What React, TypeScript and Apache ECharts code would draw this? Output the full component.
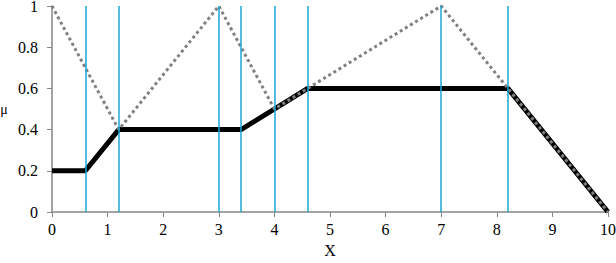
import React, { useEffect, useRef } from "react";
import * as echarts from "echarts";

const ruleX: number[] = [0, 0.6, 1.2, 3.4, 4.6, 8.2, 10];
const ruleMu: number[] = [0.2, 0.2, 0.4, 0.4, 0.6, 0.6, 0];
const envX: number[] = [0, 1.2, 3, 4, 7, 8.2, 10];
const envMu: number[] = [1, 0.4, 1, 0.5, 1, 0.6, 0];
const cuts: number[] = [0.6, 1.2, 3, 3.4, 4, 4.6, 7, 8.2];
const xTicks: number[] = [0, 1, 2, 3, 4, 5, 6, 7, 8, 9, 10];
const yTicks: number[] = [0, 0.2, 0.4, 0.6, 0.8, 1];
const xTitle = "X";
const yTitle = "μ";

const FONT16 = "16px 'Times New Roman', 'Liberation Serif', serif";
const FONT14 = "14px 'Times New Roman', 'Liberation Serif', serif";

export default function App() {
  const ref = useRef<HTMLDivElement>(null);
  useEffect(() => {
    document.body.style.margin = "0";
    if (!ref.current) return;
    const chart = echarts.init(ref.current, undefined, { renderer: "svg" });
    chart.setOption({
      animation: false,
      grid: { left: 52, right: 8, top: 6, bottom: 51, outerBoundsMode: "none" },
      xAxis: {
        type: "value",
        min: 0,
        max: 10,
        interval: 1,
        axisLine: { lineStyle: { color: "#868686", width: 1.5 } },
        axisTick: { show: true, length: 5, inside: false, lineStyle: { color: "#868686" } },
        axisLabel: { show: false },
        splitLine: { show: false },
      },
      yAxis: {
        type: "value",
        min: 0,
        max: 1,
        interval: 0.2,
        axisLine: { show: true, lineStyle: { color: "#868686", width: 1.5 } },
        axisTick: { show: true, length: 5, inside: false, lineStyle: { color: "#868686" } },
        axisLabel: { show: false },
        splitLine: { show: false },
      },
      series: [
        {
          type: "line",
          data: [],
          silent: true,
          markLine: {
            silent: true,
            symbol: "none",
            label: { show: false },
            lineStyle: { color: "#1aa7d6", width: 1.5, type: "solid" },
            data: cuts.map((c) => ({ xAxis: c })),
          },
        },
        {
          type: "line",
          data: ruleX.map((x, i) => [x, ruleMu[i]]),
          symbol: "none",
          lineStyle: { color: "#000", width: 5 },
          z: 3,
        },
        {
          type: "line",
          data: envX.map((x, i) => [x, envMu[i]]),
          symbol: "none",
          lineStyle: { color: "#808080", width: 3, type: [3, 3] },
          z: 4,
        },
      ],
    });

    const [x0, y0] = chart.convertToPixel({ gridIndex: 0 }, [0, 0]) as number[];
    const [x1, y1] = chart.convertToPixel({ gridIndex: 0 }, [10, 1]) as number[];
    const texts: any[] = [];
    xTicks.forEach((t) => {
      const px = chart.convertToPixel({ xAxisIndex: 0 }, t) as number;
      texts.push({
        type: "text",
        x: px,
        y: y0 + 9,
        style: { text: String(t), font: FONT16, fill: "#000", align: "center", verticalAlign: "top" },
      });
    });
    yTicks.forEach((t) => {
      const py = chart.convertToPixel({ yAxisIndex: 0 }, t) as number;
      texts.push({
        type: "text",
        x: x0 - 14,
        y: py,
        style: { text: String(t), font: FONT16, fill: "#000", align: "right", verticalAlign: "middle" },
      });
    });
    texts.push({
      type: "text",
      x: (x0 + x1) / 2,
      y: y0 + 30,
      style: { text: xTitle, font: FONT16, fill: "#000", align: "center", verticalAlign: "top" },
    });
    texts.push({
      type: "text",
      x: 4,
      y: (y0 + y1) / 2,
      style: { text: yTitle, font: FONT14, fill: "#000", align: "center", verticalAlign: "middle" },
    });
    chart.setOption({ graphic: texts });

    return () => chart.dispose();
  }, []);
  return <div ref={ref} style={{ width: 616, height: 263 }} />;
}
